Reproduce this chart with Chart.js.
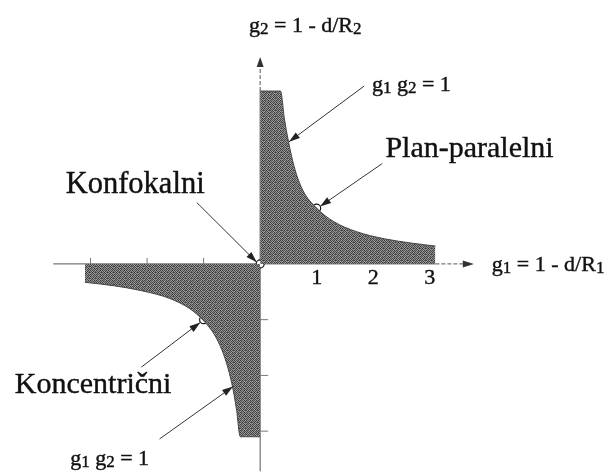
<!DOCTYPE html>
<html>
<head>
<meta charset="utf-8">
<script src="https://cdn.jsdelivr.net/npm/chart.js@4/dist/chart.umd.min.js"></script>
<style>
  html, body { margin: 0; padding: 0; background: #fff; }
  #wrap { width: 616px; height: 474px; position: relative; }
</style>
</head>
<body>
<div id="wrap"><canvas id="myChart"></canvas></div>
<script>
// stable region, first quadrant
const upperG1 = [0, 0.36, 0.43, 0.5, 0.6, 0.75, 1.0, 1.3, 1.7, 2.2, 2.7, 3.1];
const upperG2 = [3.1, 3.1, 2.6, 2.2, 1.75, 1.33, 1.0, 0.76, 0.58, 0.45, 0.37, 0.32];
// stable region, third quadrant
const lowerG1 = [-3.1, -2.6, -2.1, -1.6, -1.25, -1.0, -0.78, -0.62, -0.5, -0.42, -0.35, 0];
const lowerG2 = [-0.33, -0.39, -0.48, -0.62, -0.8, -1.02, -1.32, -1.7, -2.15, -2.6, -3.1, -3.1];
// marked resonators: konfokalni, plan-paralelni, koncentricni
const markG1 = [0, 1, -1];
const markG2 = [0, 1, -1];
// tick values
const xTickLabels = [1, 2, 3];
const xMinorTicks = [-1, -2, -3];
const yMinorTicks = [-1, -2, -3];

var FONT = '"Liberation Serif", "Times New Roman", serif';

function toPoints(xs, ys) {
  return xs.map((x, i) => ({ x: x, y: ys[i] }));
}

// grainy gray fill like the printed original
function makePattern() {
  var grays = [
    [0x38, 0x98, 0x50, 0x88, 0x40, 0xa0],
    [0x8c, 0x48, 0xa4, 0x3c, 0x90, 0x54],
    [0x50, 0x94, 0x34, 0x9c, 0x5c, 0x40],
    [0xa0, 0x44, 0x84, 0x48, 0x98, 0x78],
    [0x3c, 0x7c, 0x58, 0xa0, 0x34, 0x94],
    [0x94, 0x4c, 0x98, 0x50, 0x84, 0x44],
  ];
  var c = document.createElement("canvas");
  c.width = 6;
  c.height = 6;
  var g = c.getContext("2d");
  for (var r = 0; r < 6; r++) {
    for (var k = 0; k < 6; k++) {
      var v = grays[r][k];
      g.fillStyle = "rgb(" + v + "," + v + "," + v + ")";
      g.fillRect(k, r, 1, 1);
    }
  }
  return g.createPattern(c, "repeat");
}
var grain = makePattern();

// annotation layout (data units)
var arrows = [
  { from: [1.84, 3.19], to: [0.51, 2.19] },
  { from: [2.16, 1.8], to: [1.06, 1.03] },
  { from: [-1.12, 1.1], to: [-0.06, 0.03] },
  { from: [-2.1, -1.85], to: [-1.06, -1.05] },
  { from: [-1.78, -3.14], to: [-0.48, -2.2] },
];
var labels = [
  { at: [-0.197, 4.167], size: 22, parts: [["g"], ["2", 1], [" = 1 - d/R"], ["2", 1]] },
  { at: [4.099, -0.126], size: 22, parts: [["g"], ["1", 1], [" = 1 - d/R"], ["1", 1]] },
  { at: [1.977, 3.105], size: 22, parts: [["g"], ["1", 1], [" g"], ["2", 1], [" = 1"]] },
  { at: [-3.36, -3.605], size: 22, parts: [["g"], ["1", 1], [" g"], ["2", 1], [" = 1"]] },
  { at: [2.216, 1.921], size: 30, parts: [["Plan-paralelni"]] },
  { at: [-3.44, 1.277], size: 30.5, parts: [["Konfokalni"]] },
  { at: [-4.34, -2.319], size: 30, parts: [["Koncentrični"]] },
];

function drawRich(ctx, parts, x, y, size) {
  ctx.textAlign = "left";
  ctx.textBaseline = "alphabetic";
  ctx.lineWidth = 0.4;
  parts.forEach((p) => {
    var sub = p[1] === 1;
    var s = sub ? Math.round(size * 0.75) : size;
    ctx.font = s + "px " + FONT;
    var yy = y + (sub ? size * 0.1 : 0);
    ctx.fillText(p[0], x, yy);
    ctx.strokeText(p[0], x, yy);
    x += ctx.measureText(p[0]).width;
  });
}

function arrowHead(ctx, x0, y0, x1, y1, len, half) {
  var a = Math.atan2(y1 - y0, x1 - x0);
  ctx.beginPath();
  ctx.moveTo(x1, y1);
  ctx.lineTo(x1 - len * Math.cos(a) + half * Math.sin(a), y1 - len * Math.sin(a) - half * Math.cos(a));
  ctx.lineTo(x1 - len * Math.cos(a) - half * Math.sin(a), y1 - len * Math.sin(a) + half * Math.cos(a));
  ctx.closePath();
  ctx.fill();
}

var axesPlugin = {
  id: "axes",
  beforeDatasetsDraw(chart) {
    var ctx = chart.ctx;
    var X = (v) => chart.scales.x.getPixelForValue(v);
    var Y = (v) => chart.scales.y.getPixelForValue(v);
    ctx.save();
    ctx.strokeStyle = "#555";
    ctx.fillStyle = "#333";
    ctx.lineWidth = 1;
    // x axis
    ctx.beginPath();
    ctx.moveTo(X(-3.66), Y(0));
    ctx.lineTo(X(3.1), Y(0));
    ctx.stroke();
    ctx.setLineDash([4, 2]);
    ctx.beginPath();
    ctx.moveTo(X(3.1), Y(0));
    ctx.lineTo(X(3.6), Y(0));
    ctx.stroke();
    // y axis
    ctx.beginPath();
    ctx.moveTo(X(0), Y(3.1));
    ctx.lineTo(X(0), Y(3.55));
    ctx.stroke();
    ctx.setLineDash([]);
    ctx.beginPath();
    ctx.moveTo(X(0), Y(3.1));
    ctx.lineTo(X(0), Y(-3.72));
    ctx.stroke();
    arrowHead(ctx, X(0), Y(0), X(3.78), Y(0), 11, 3.5);
    arrowHead(ctx, X(0), Y(0), X(0), Y(3.71), 10, 3.5);
    // small ticks
    ctx.strokeStyle = "#777";
    xMinorTicks.forEach((v) => {
      ctx.beginPath();
      ctx.moveTo(X(v), Y(0));
      ctx.lineTo(X(v), Y(0) - 6);
      ctx.stroke();
    });
    yMinorTicks.forEach((v) => {
      ctx.beginPath();
      ctx.moveTo(X(0), Y(v));
      ctx.lineTo(X(0) + 8, Y(v));
      ctx.stroke();
    });
    ctx.restore();
  },
  afterDatasetsDraw(chart) {
    var ctx = chart.ctx;
    var X = (v) => chart.scales.x.getPixelForValue(v);
    var Y = (v) => chart.scales.y.getPixelForValue(v);
    ctx.save();
    ctx.strokeStyle = "#333";
    ctx.fillStyle = "#222";
    ctx.lineWidth = 1;
    arrows.forEach((a) => {
      var x0 = X(a.from[0]), y0 = Y(a.from[1]);
      var x1 = X(a.to[0]), y1 = Y(a.to[1]);
      ctx.beginPath();
      ctx.moveTo(x0, y0);
      ctx.lineTo(x1, y1);
      ctx.stroke();
      arrowHead(ctx, x0, y0, x1, y1, 11, 3.5);
    });
    ctx.fillStyle = "#111";
    ctx.strokeStyle = "#111";
    labels.forEach((l) => drawRich(ctx, l.parts, X(l.at[0]), Y(l.at[1]), l.size));
    ctx.font = "22px " + FONT;
    ctx.textAlign = "center";
    ctx.textBaseline = "alphabetic";
    xTickLabels.forEach((v) => {
      ctx.fillText(String(v), X(v), Y(-0.36));
      ctx.strokeText(String(v), X(v), Y(-0.36));
    });
    ctx.restore();
  },
};

var ctx = document.getElementById("myChart").getContext("2d");
var chart = new Chart(ctx, {
  type: "scatter",
  data: {
    datasets: [
      {
        label: "upper",
        data: toPoints(upperG1, upperG2),
        showLine: true,
        fill: "origin",
        backgroundColor: grain,
        borderColor: "#444",
        borderWidth: 1,
        pointRadius: 0,
        cubicInterpolationMode: "monotone",
      },
      {
        label: "lower",
        data: toPoints(lowerG1, lowerG2),
        showLine: true,
        fill: "origin",
        backgroundColor: grain,
        borderColor: "#444",
        borderWidth: 1,
        pointRadius: 0,
        cubicInterpolationMode: "monotone",
      },
      {
        label: "marks",
        data: toPoints(markG1, markG2),
        showLine: false,
        pointRadius: 4,
        pointBackgroundColor: "#fff",
        pointBorderColor: "#111",
        pointBorderWidth: 1.2,
      },
    ],
  },
  options: {
    animation: false,
    responsive: true,
    maintainAspectRatio: false,
    layout: { padding: 0 },
    plugins: {
      legend: { display: false },
      tooltip: { enabled: false },
    },
    scales: {
      x: { type: "linear", min: -4.51, max: 6.203, display: false },
      y: { type: "linear", min: -3.675, max: 4.64, display: false },
    },
  },
  plugins: [axesPlugin],
});
</script>
</body>
</html>
